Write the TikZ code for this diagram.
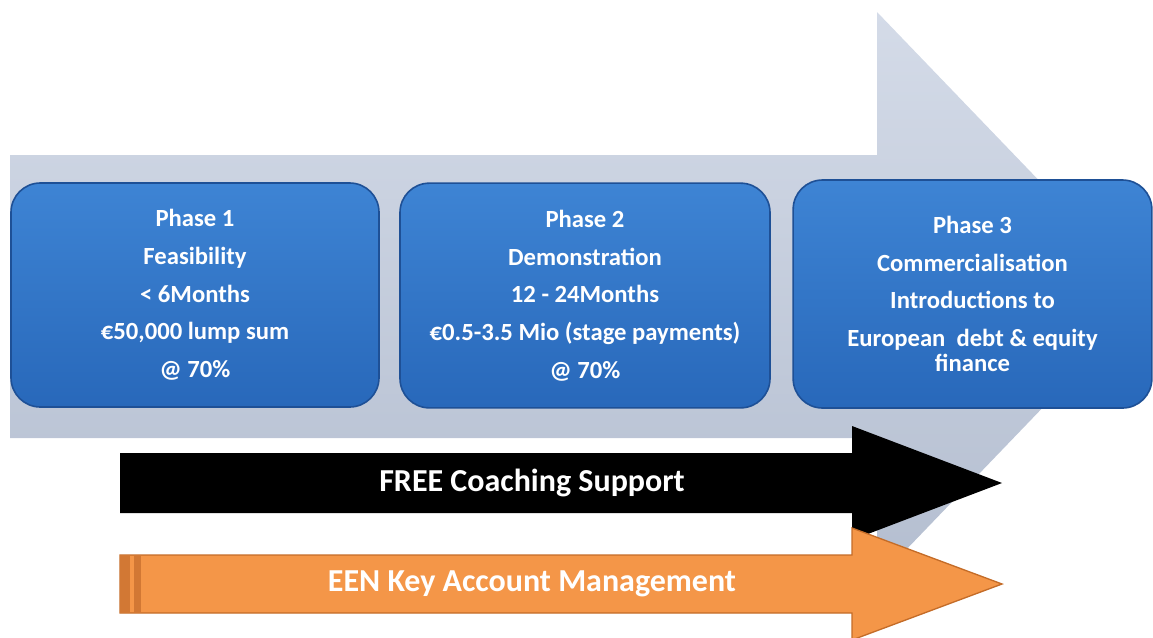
\documentclass[tikz,border=0pt]{standalone}
\usepackage{fontspec}
\setmainfont{Carlito}
\usepackage{tikz}

\definecolor{greytop}{RGB}{212,219,232}
\definecolor{greybot}{RGB}{180,190,208}
\definecolor{phasetop}{RGB}{62,132,212}
\definecolor{phasebot}{RGB}{40,104,186}
\definecolor{phaseedge}{RGB}{30,80,150}
\definecolor{eenorange}{RGB}{244,150,72}
\definecolor{eenedge}{RGB}{196,108,40}
\definecolor{eenstripe}{RGB}{210,120,52}

\begin{document}
\begin{tikzpicture}[x=0.75pt,y=-0.75pt]
\tikzstyle{phase}=[draw=phaseedge, line width=1.2pt, top color=phasetop, bottom color=phasebot, rounded corners=22pt, text=white, font=\bfseries\fontsize{18.5}{28.3}\selectfont, align=center, inner sep=0pt]
\tikzstyle{bandtext}=[text=white, font=\bfseries\fontsize{24}{28}\selectfont, inner sep=0pt]
\useasboundingbox (0,0) rectangle (1153,637);
\clip (0,0) rectangle (1153,637);
\shade [top color=greytop, bottom color=greybot] (10,155) -- (877,155) -- (877,12) -- (1150,296) -- (877,580) -- (877,438) -- (10,438) -- cycle;
\node [phase, minimum width=276pt, minimum height=168pt] (p1) at (195,295) {Phase 1\\Feasibility\\< 6Months\\€50,000 lump sum\\@ 70\%};
\node [phase, minimum width=277.5pt, minimum height=168.5pt] (p2) at (585,295.5) {Phase 2\\Demonstration\\12 - 24Months\\€0.5-3.5 Mio (stage payments)\\@ 70\%};
\node [phase, minimum width=269pt, minimum height=171pt] (p3) at (972.5,294) {Phase 3\\Commercialisation\\Introductions to\\European~ debt \& equity\\[-9.5pt]finance};
\fill [black] (120,453) -- (852,453) -- (852,426) -- (1002,483) -- (852,540) -- (852,513) -- (120,513) -- cycle;
\node [bandtext] (coach) at (532,483) {FREE Coaching Support};
\filldraw [fill=eenorange, draw=eenedge, line width=1pt] (120,555) -- (852,555) -- (852,528) -- (1002,584) -- (852,640) -- (852,613) -- (120,613) -- cycle;
\fill [eenstripe] (120,555) rectangle (130,613);
\fill [eenstripe] (134,555) rectangle (141,613);
\node [bandtext] (een) at (532,584) {EEN Key Account Management};
\end{tikzpicture}
\end{document}
